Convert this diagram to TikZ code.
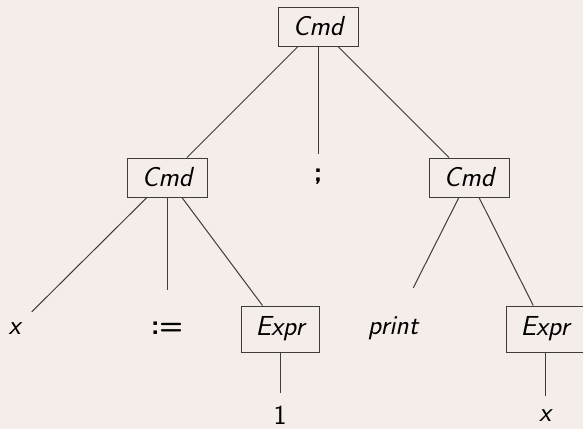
\documentclass[tikz,border=0pt]{standalone}
\usepackage{fontspec}
\newcommand\treefont{\sffamily\fontsize{27.5}{32}\selectfont}
\definecolor{bgc}{RGB}{245,237,233}
\definecolor{edgec}{RGB}{60,60,60}
\tikzset{
  tbox/.style={draw=edgec, line width=1pt, minimum width=80pt, minimum height=39pt, inner sep=0pt, font=\treefont\itshape},
  ebox/.style={tbox, minimum width=78pt, minimum height=46pt},
  leaf/.style={inner sep=0pt, font=\treefont},
  bleaf/.style={leaf, font=\treefont\bfseries},
  ileaf/.style={leaf, font=\treefont\itshape},
  tedge/.style={draw=edgec, line width=1pt}
}
\begin{document}
\begin{tikzpicture}[x=1pt,y=-1pt]
\fill[bgc] (0,0) rectangle (583,429);
\useasboundingbox (0,0) rectangle (583,429);
\node[tbox] (top) at (318,26.5) {Cmd};
\node[tbox] (cmdL) at (167,177.5) {Cmd};
\node[bleaf, minimum height=46pt] (semi) at (318,177) {;};
\node[tbox] (cmdR) at (469,177.5) {Cmd};
\node[ileaf, minimum width=36pt, minimum height=34pt] (xa) at (14.5,329) {x};
\node[bleaf, minimum height=76pt] (assign) at (167,328) {:=};
\node[ebox] (expr1) at (280,329) {Expr};
\node[ileaf, minimum width=60pt, minimum height=80pt] (print) at (393,328) {print};
\node[ebox] (expr2) at (545,329) {Expr};
\node[leaf, minimum height=44pt] (one) at (280,415) {1};
\node[ileaf, minimum height=40pt] (xb) at (545,416) {x};
\draw[tedge] (top) -- (cmdL);
\draw[tedge] (top) -- (semi);
\draw[tedge] (top) -- (cmdR);
\draw[tedge] (cmdL) -- (xa);
\draw[tedge] (cmdL) -- (assign);
\draw[tedge] (cmdL) -- (expr1);
\draw[tedge] (cmdR) -- (print);
\draw[tedge] (cmdR) -- (expr2);
\draw[tedge] (expr1) -- (one);
\draw[tedge] (expr2) -- (xb);
\end{tikzpicture}
\end{document}
